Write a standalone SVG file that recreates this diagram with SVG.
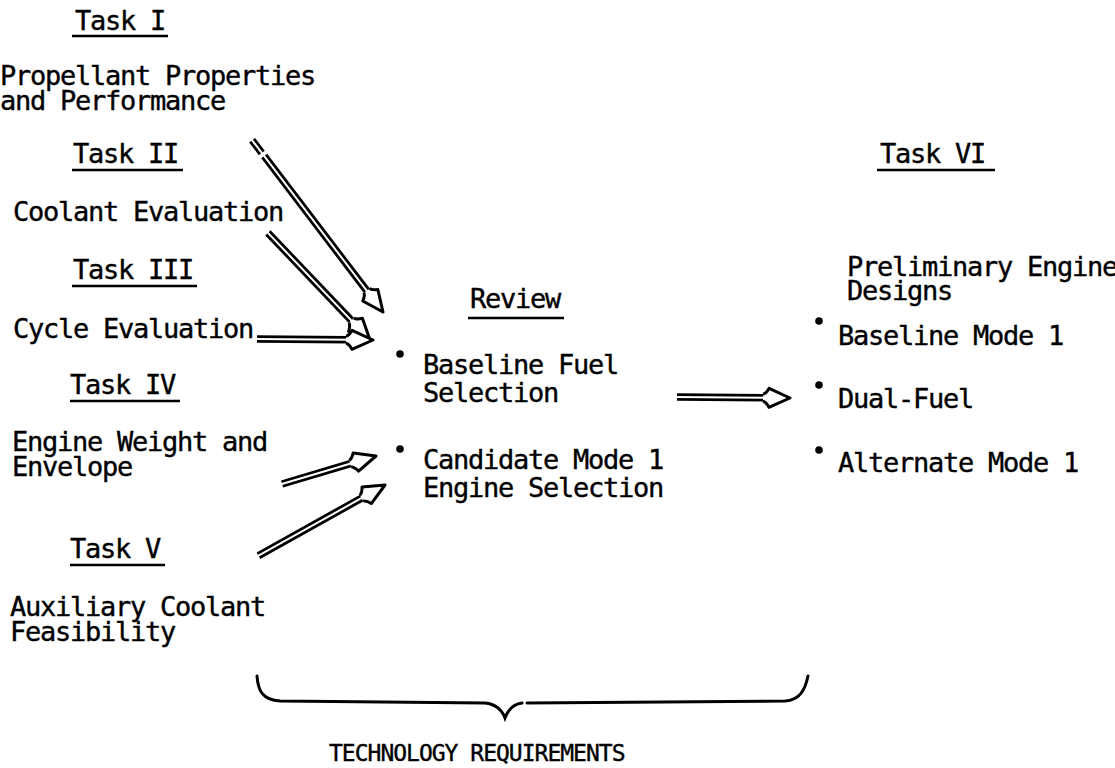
<svg xmlns="http://www.w3.org/2000/svg" xmlns:xlink="http://www.w3.org/1999/xlink" width="1115" height="768" viewBox="0 0 1115 768">
  <style>
    .t { font-family: "DejaVu Sans Mono", "Liberation Mono", monospace; font-size: 27px; letter-spacing: -1.25px; fill: #000; stroke: #000; stroke-width: 0.4; }
    .small { font-size: 23px; letter-spacing: -1px; }
    .ul { stroke: #000; stroke-width: 2.5; fill: none; }
    .bullet { fill: #000; }
    .outer { stroke: #000; stroke-width: 7.5; fill: none; }
    .inner { stroke: #fff; stroke-width: 2; fill: none; }
    .brace { stroke: #000; stroke-width: 3; fill: none; stroke-linecap: round; }
  </style>
  <defs>
    <!-- open arrowhead, tip at the origin, pointing along +x -->
    <path id="head" d="M-27,-3.5 Q-24,-4 -21,-9.5 L0,0 L-21,9.5 Q-24,4 -27,3.5" fill="#fff" stroke="#000" stroke-width="3" stroke-linejoin="round"/>
  </defs>
  <rect width="1115" height="768" fill="#fff"/>

  <!-- Task I -->
  <g id="task1">
    <text class="t" x="75" y="30">Task I</text>
    <line class="ul" x1="72" y1="36" x2="168" y2="36"/>
    <text class="t" x="0" y="85">Propellant Properties</text>
    <text class="t" x="0" y="110">and Performance</text>
  </g>

  <!-- Task II -->
  <g id="task2">
    <text class="t" x="73" y="163">Task II</text>
    <line class="ul" x1="72" y1="170" x2="183" y2="170"/>
    <text class="t" x="13" y="221">Coolant Evaluation</text>
  </g>

  <!-- Task III -->
  <g id="task3">
    <text class="t" x="73" y="279">Task III</text>
    <line class="ul" x1="72" y1="286" x2="197" y2="286"/>
    <text class="t" x="13" y="338">Cycle Evaluation</text>
  </g>

  <!-- Task IV -->
  <g id="task4">
    <text class="t" x="70" y="394">Task IV</text>
    <line class="ul" x1="70" y1="401" x2="180" y2="401"/>
    <text class="t" x="12" y="451">Engine Weight and</text>
    <text class="t" x="12" y="476">Envelope</text>
  </g>

  <!-- Task V -->
  <g id="task5">
    <text class="t" x="70" y="558">Task V</text>
    <line class="ul" x1="70" y1="565" x2="165" y2="565"/>
    <text class="t" x="10" y="616">Auxiliary Coolant</text>
    <text class="t" x="10" y="641">Feasibility</text>
  </g>

  <!-- Review -->
  <g id="review">
    <text class="t" x="470" y="308">Review</text>
    <line class="ul" x1="468" y1="318" x2="564" y2="318"/>
    <circle class="bullet" cx="400" cy="354" r="3.8"/>
    <text class="t" x="423" y="374">Baseline Fuel</text>
    <text class="t" x="423" y="402">Selection</text>
    <circle class="bullet" cx="400" cy="449" r="3.8"/>
    <text class="t" x="423" y="469">Candidate Mode 1</text>
    <text class="t" x="423" y="497">Engine Selection</text>
  </g>

  <!-- Task VI -->
  <g id="task6">
    <text class="t" x="880" y="163">Task VI</text>
    <line class="ul" x1="877" y1="170" x2="995" y2="170"/>
    <text class="t" x="847" y="276">Preliminary Engine</text>
    <text class="t" x="847" y="300">Designs</text>
    <circle class="bullet" cx="819" cy="321" r="3.8"/>
    <text class="t" x="838" y="345">Baseline Mode 1</text>
    <circle class="bullet" cx="819" cy="385" r="3.8"/>
    <text class="t" x="838" y="408">Dual-Fuel</text>
    <circle class="bullet" cx="819" cy="450" r="3.8"/>
    <text class="t" x="838" y="472">Alternate Mode 1</text>
  </g>

  <!-- Technology requirements brace -->
  <g id="techreq">
    <path class="brace" d="M257,676 C258,690 262,700 280,701 L485,703 C495,704 502,710 505,718 C508,710 514,704 522,703 M527,703 L785,701 C800,700 805,690 808,676"/>
    <text class="t small" x="329" y="761">TECHNOLOGY REQUIREMENTS</text>
  </g>

  <!-- connectors: double-line shafts with open heads -->
  <g id="connectors">
    <g transform="translate(383,312) rotate(52.7)">
      <line class="outer" x1="-216" y1="0" x2="-200" y2="0"/>
      <line class="outer" x1="-196" y1="0" x2="-25" y2="0"/>
      <line class="inner" x1="-218" y1="0" x2="-22" y2="0"/>
      <use xlink:href="#head"/>
    </g>
    <g transform="translate(370,340) rotate(46.4)">
      <line class="outer" x1="-148" y1="0" x2="-25" y2="0"/>
      <line class="inner" x1="-150" y1="0" x2="-22" y2="0"/>
      <use xlink:href="#head"/>
    </g>
    <g transform="translate(373,340) rotate(0.5)">
      <line class="outer" x1="-116" y1="0" x2="-25" y2="0"/>
      <line class="inner" x1="-118" y1="0" x2="-22" y2="0"/>
      <use xlink:href="#head"/>
    </g>
    <g transform="translate(376,456) rotate(-16.6)">
      <line class="outer" x1="-98" y1="0" x2="-25" y2="0"/>
      <line class="inner" x1="-100" y1="0" x2="-22" y2="0"/>
      <use xlink:href="#head"/>
    </g>
    <g transform="translate(385,485) rotate(-29.2)">
      <line class="outer" x1="-145" y1="0" x2="-25" y2="0"/>
      <line class="inner" x1="-147" y1="0" x2="-22" y2="0"/>
      <use xlink:href="#head"/>
    </g>
    <g transform="translate(790,398) rotate(0.5)">
      <line class="outer" x1="-113" y1="0" x2="-25" y2="0"/>
      <line class="inner" x1="-115" y1="0" x2="-22" y2="0"/>
      <use xlink:href="#head"/>
    </g>
  </g>
</svg>
